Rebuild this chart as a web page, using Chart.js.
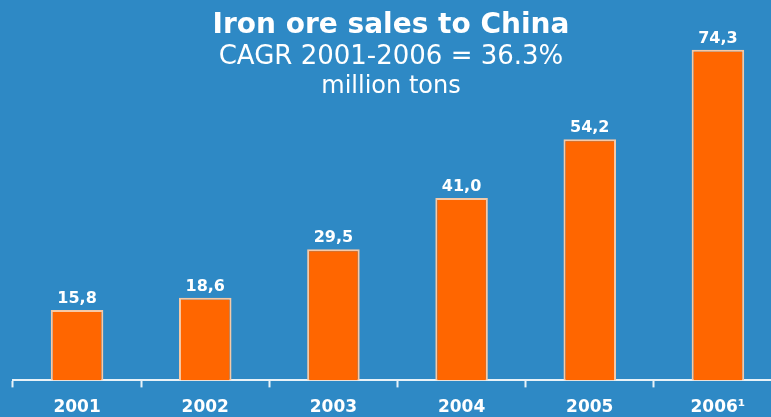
<!DOCTYPE html>
<html>
<head>
<meta charset="utf-8">
<script src="https://cdn.jsdelivr.net/npm/chart.js@4"></script>
<style>
  html, body { margin: 0; padding: 0; background: #2e89c5; overflow: hidden; }
  #wrap { width: 782px; height: 427px; }
</style>
</head>
<body>
<div id="wrap"><canvas id="myChart"></canvas></div>
<script>
// sales volumes, million tons
const years = ['2001', '2002', '2003', '2004', '2005', '2006¹'];
const sales = [15.8, 18.6, 29.5, 41.0, 54.2, 74.3];
const titleLines = ['Iron ore sales to China', 'CAGR 2001-2006 = 36.3%', 'million tons'];

// header text drawn in the free space above the short bars
var headerText = {
  id: 'headerText',
  afterDraw: function (chart) {
    var c = chart.ctx;
    var cx = 391;
    c.save();
    c.fillStyle = '#ffffff';
    c.textAlign = 'center';
    c.textBaseline = 'alphabetic';
    c.font = 'bold 28px "DejaVu Sans"';
    c.fillText(titleLines[0], cx, 33);
    c.font = '26px "DejaVu Sans"';
    c.fillText(titleLines[1], cx, 64);
    c.font = '24px "DejaVu Sans"';
    c.fillText(titleLines[2], cx, 93);
    c.restore();
  }
};

// value label on top of each bar
var barValues = {
  id: 'barValues',
  afterDatasetsDraw: function (chart) {
    var c = chart.ctx;
    var meta = chart.getDatasetMeta(0);
    c.save();
    c.fillStyle = '#ffffff';
    c.textAlign = 'center';
    c.textBaseline = 'alphabetic';
    c.font = 'bold 16px "DejaVu Sans"';
    meta.data.forEach(function (bar, i) {
      c.fillText(sales[i].toFixed(1).replace('.', ','), bar.x, bar.y - 7);
    });
    c.restore();
  }
};

const ctx = document.getElementById('myChart');
const myChart = new Chart(ctx, {
  type: 'bar',
  data: {
    labels: years,
    datasets: [{
      data: sales,
      backgroundColor: '#ff6600',
      borderColor: '#f6c9a6',
      borderWidth: 2,
      borderSkipped: 'bottom',
      categoryPercentage: 1,
      barPercentage: 0.41
    }]
  },
  options: {
    responsive: true,
    maintainAspectRatio: false,
    animation: false,
    layout: { padding: { left: 13, right: 0, top: 0, bottom: 0 } },
    plugins: {
      legend: { display: false },
      tooltip: { enabled: false }
    },
    scales: {
      x: {
        offset: true,
        grid: {
          offset: true,
          drawOnChartArea: false,
          drawTicks: true,
          tickLength: 7,
          tickWidth: 2,
          color: '#e8f2f8'
        },
        border: { color: '#e8f2f8', width: 2 },
        ticks: {
          color: '#ffffff',
          padding: 13,
          font: { family: 'DejaVu Sans', weight: 'bold', size: 17, lineHeight: 0.8 }
        }
      },
      y: {
        display: false,
        min: 0,
        max: 85.5
      }
    }
  },
  plugins: [headerText, barValues]
});
</script>
</body>
</html>
